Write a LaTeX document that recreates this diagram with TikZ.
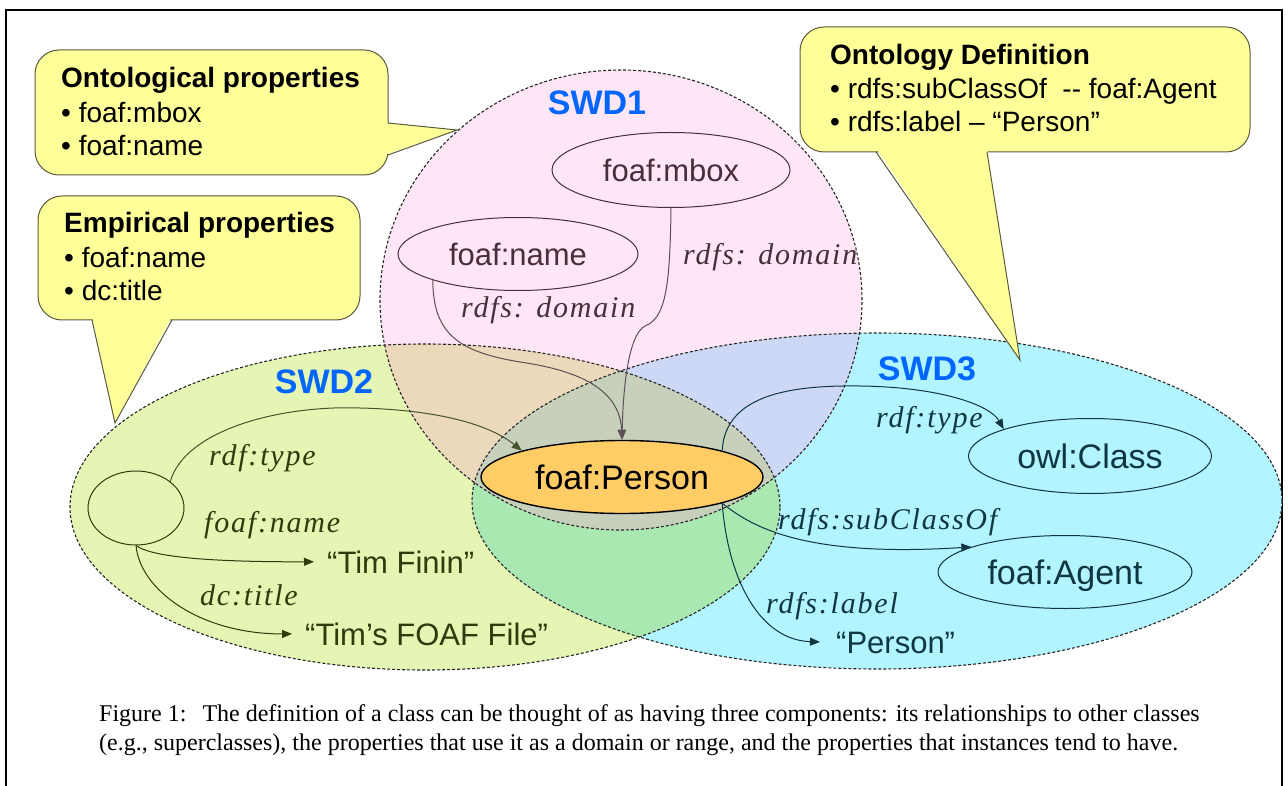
\documentclass[tikz,border=0pt]{standalone}
\usepackage{fontspec}
\setmainfont{Liberation Serif}
\newfontfamily\arial{Liberation Sans}
\newfontfamily\timesit{Liberation Serif}[LetterSpace=6]
\usetikzlibrary{shapes.geometric,arrows.meta}
\definecolor{pinkF}{RGB}{255,230,246}
\definecolor{greenF}{RGB}{228,245,180}
\definecolor{cyanF}{RGB}{178,244,255}
\definecolor{tanF}{RGB}{236,216,186}
\definecolor{lavF}{RGB}{204,216,245}
\definecolor{gcF}{RGB}{170,232,178}
\definecolor{triF}{RGB}{198,208,186}
\definecolor{personF}{RGB}{255,204,102}
\definecolor{calloutF}{RGB}{255,255,153}
\definecolor{swdblue}{RGB}{0,102,255}
\definecolor{pinkInk}{RGB}{75,45,60}
\definecolor{pinkArrow}{RGB}{95,80,85}
\definecolor{greenInk}{RGB}{45,60,10}
\definecolor{greenArrow}{RGB}{70,85,45}
\definecolor{cyanInk}{RGB}{15,55,65}
\definecolor{calloutLine}{RGB}{90,90,60}
\begin{document}
\begin{tikzpicture}[x=1pt,y=-1pt,
  setline/.style={dash pattern=on 3pt off 2pt, line width=1.1pt, draw=black!85},
  callout/.style={fill=calloutF, draw=calloutLine, line width=1pt},
  ctitle/.style={anchor=base west, inner sep=0pt, font=\arial\bfseries\fontsize{28}{33}\selectfont},
  citem/.style={anchor=base west, inner sep=0pt, font=\arial\fontsize{28}{33}\selectfont},
  swd/.style={font=\arial\bfseries\fontsize{34}{40}\selectfont, text=swdblue, anchor=base, inner sep=0pt},
  cls/.style={ellipse, draw, line width=1pt, inner sep=0pt, text depth=0pt, font=\arial\fontsize{31}{36}\selectfont},
  big/.style={font=\arial\fontsize{34}{40}\selectfont},
  elab/.style={anchor=base west, inner sep=0pt, font=\timesit\itshape\fontsize{30}{34}\selectfont},
  lit/.style={anchor=base west, inner sep=0pt, font=\arial\fontsize{31}{36}\selectfont},
  rel/.style={line width=1pt, -{Triangle[length=10pt,width=8pt]}},
  captext/.style={anchor=base west, inner sep=0pt, font=\fontsize{24}{29}\selectfont},
]
\useasboundingbox (0,0) rectangle (1288,786);
% frame
\draw[line width=1.8pt] (6,800) -- (6,10) -- (1282,10) -- (1282,800);

% region fills
\fill[greenF] (425,507) ellipse [x radius=355pt, y radius=163pt];
\fill[cyanF] (877,501) ellipse [x radius=405pt, y radius=168pt];
\begin{scope}
  \clip (425,507) ellipse [x radius=355pt, y radius=163pt];
  \fill[gcF] (877,501) ellipse [x radius=405pt, y radius=168pt];
\end{scope}
\fill[pinkF] (621,300) ellipse [x radius=241pt, y radius=230pt];
\begin{scope}
  \clip (621,300) ellipse [x radius=241pt, y radius=230pt];
  \fill[tanF] (425,507) ellipse [x radius=355pt, y radius=163pt];
  \fill[lavF] (877,501) ellipse [x radius=405pt, y radius=168pt];
  \clip (425,507) ellipse [x radius=355pt, y radius=163pt];
  \fill[triF] (877,501) ellipse [x radius=405pt, y radius=168pt];
\end{scope}
\draw[setline] (425,507) ellipse [x radius=355pt, y radius=163pt];
\draw[setline] (877,501) ellipse [x radius=405pt, y radius=168pt];
\draw[setline] (621,300) ellipse [x radius=241pt, y radius=230pt];

% set labels
\node[swd] (swd1) at (597,115) {SWD1};
\node[swd] (swd2) at (324,393) {SWD2};
\node[swd] (swd3) at (927,380) {SWD3};

% class nodes
\node[cls, draw=pinkInk, text=pinkInk, minimum width=238pt, minimum height=75pt] (mbox) at (671,170) {foaf:mbox};
\node[cls, draw=pinkInk, text=pinkInk, minimum width=240pt, minimum height=73pt] (fname) at (518,254) {foaf:name};
\node[cls, big, draw=cyanInk, text=cyanInk, minimum width=243pt, minimum height=75pt] (owl) at (1090,456) {owl:Class};
\node[cls, big, draw=cyanInk, text=cyanInk, minimum width=254pt, minimum height=73pt] (agent) at (1065,572) {foaf:Agent};
\node[cls, draw=greenInk, minimum width=96pt, minimum height=74pt] (blank) at (136,508) {};
\node[cls, big, draw=black, fill=personF, line width=1.4pt, minimum width=282pt, minimum height=73pt] (person) at (622,477) {foaf:Person};

% literals
\node[lit, text=greenInk] (tim) at (327,573) {“Tim Finin”};
\node[lit, text=greenInk] (file) at (305,645) {“Tim’s FOAF File”};
\node[lit, text=cyanInk] (plit) at (836,653) {“Person”};

% connectors
\draw[rel, draw=pinkArrow] (mbox.south) .. controls (670,290) and (665,318) .. (645,326) .. controls (628,335) and (623,390) .. (person.north);
\draw[rel, draw=pinkArrow] (fname.south west) .. controls (433,335) and (460,352) .. (520,362) .. controls (590,372) and (620,395) .. (person.north);
\draw[rel, draw=greenArrow] (blank.north east) .. controls (185,430) and (280,405) .. (360,408) .. controls (440,410) and (490,425) .. (person.north west);
\draw[rel, draw=greenInk, shorten >=13pt] (blank.south) .. controls (150,556) and (200,562) .. (tim.west);
\draw[rel, draw=greenInk, shorten >=13pt] (blank.south) .. controls (140,590) and (200,634) .. (file.west);
\draw[rel, draw=cyanInk] (person.north east) .. controls (725,395) and (790,385) .. (860,386) .. controls (940,387) and (990,405) .. (owl.north west);
\draw[rel, draw=cyanInk] (person.south east) .. controls (750,525) and (800,558) .. (agent.165);
\draw[rel, draw=cyanInk, shorten >=16pt] (person.south east) .. controls (728,580) and (760,640) .. (plit.west);

% edge labels
\node[elab, text=pinkInk] (l1) at (683,265) {rdfs: domain};
\node[elab, text=pinkInk] (l2) at (461,318) {rdfs: domain};
\node[elab, text=greenInk] (l3) at (209,465) {rdf:type};
\node[elab, text=greenInk] (l4) at (204,532) {foaf:name};
\node[elab, text=greenInk] (l5) at (200,605) {dc:title};
\node[elab, text=cyanInk] (l6) at (876,427) {rdf:type};
\node[elab, text=cyanInk] (l7) at (778,529) {rdfs:subClassOf};
\node[elab, text=cyanInk] (l8) at (766,613) {rdfs:label};

% callout 1
\draw[callout, rounded corners=24pt] (35,50) rectangle (388,175);
\fill[calloutF] (384,123) -- (457,130) -- (384,155) -- cycle;
\draw[calloutLine, line width=1pt] (388,123) -- (457,130) -- (388,155);
\node[ctitle] (c1t) at (61,88) {Ontological properties};
\node[citem] (c1a) at (61,123) {• foaf:mbox};
\node[citem] (c1b) at (61,156) {• foaf:name};

% callout 2
\draw[callout, rounded corners=24pt] (38,196) rectangle (360,320);
\fill[calloutF] (92,316) -- (115,423) -- (172,316) -- cycle;
\draw[calloutLine, line width=1pt] (92,320) -- (115,423) -- (172,320);
\node[ctitle] (c2t) at (64,233) {Empirical properties};
\node[citem] (c2a) at (64,268) {• foaf:name};
\node[citem] (c2b) at (64,301) {• dc:title};

% callout 3
\draw[callout, rounded corners=24pt] (800,27) rectangle (1250,152);
\fill[calloutF] (876,148) -- (1020,360) -- (987,148) -- cycle;
\draw[calloutLine, line width=1pt] (876,152) -- (1020,360) -- (987,152);
\node[ctitle] (c3t) at (830,65) {Ontology Definition};
\node[citem] (c3a) at (830,99) {• rdfs:subClassOf\ \ -- foaf:Agent};
\node[citem] (c3b) at (830,132) {• rdfs:label – “Person”};

% caption
\node[captext] (cap1) at (99,721) {Figure 1:\hspace{16pt}The definition of a class can be thought of as having three components: its relationships to other classes};
\node[captext] (cap2) at (99,750) {(e.g., superclasses), the properties that use it as a domain or range, and the properties that instances tend to have.};
\end{tikzpicture}
\end{document}
